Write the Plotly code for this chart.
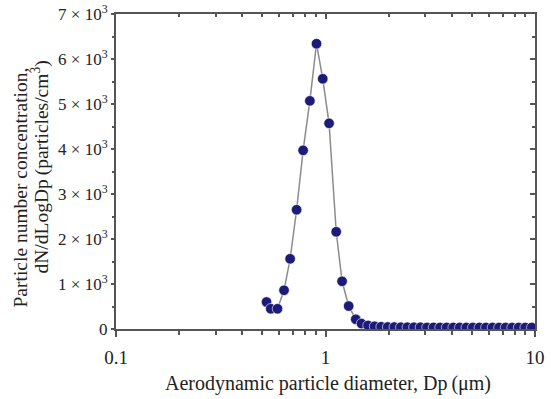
import plotly.graph_objects as go

# Data
diameter_um = [0.523, 0.548, 0.590, 0.634, 0.678, 0.728, 0.782, 0.842, 0.906, 0.970,
               1.040, 1.125, 1.200, 1.290, 1.395, 1.486, 1.596, 1.715, 1.843, 1.981,
               2.129, 2.288, 2.458, 2.642, 2.839, 3.051, 3.278, 3.523, 3.786, 4.068,
               4.371, 4.698, 5.048, 5.425, 5.829, 6.264, 6.732, 7.234, 7.774, 8.354,
               8.977, 9.647]
concentration = [600, 450, 450, 860, 1560, 2650, 3970, 5070, 6340, 5560,
                 4570, 2160, 1060, 510, 215, 120, 80, 60, 50, 45,
                 42, 40, 40, 38, 38, 36, 36, 35, 35, 35,
                 34, 34, 34, 33, 33, 33, 33, 32, 32, 32,
                 32, 32]

y_tick_vals = [0, 1000, 2000, 3000, 4000, 5000, 6000, 7000]
y_tick_text = ["0"] + [f"{i}\u2005\u00d7\u200510<sup>3</sup>" for i in range(1, 8)]
x_tick_vals = [0.1, 1, 10]
x_tick_text = ["0.1", "1", "10"]
x_minor_vals = [m * 10 ** e for e in (-1, 0) for m in range(2, 10)]
y_minor_vals = [500, 1500, 2500, 3500, 4500, 5500, 6500]

x_title = "Aerodynamic particle diameter, Dp\u2009(\u03bcm)"
y_title_1 = "Particle number concentration,"
y_title_2 = "dN/dLogDp\u2009(particles/cm<sup>3</sup>)"

font = "Liberation Serif, Times New Roman, serif"
axis_col = "#555555"
text_col = "#222222"

fig = go.Figure()
fig.add_trace(go.Scatter(
    x=diameter_um, y=concentration, mode="lines+markers",
    line=dict(color="#8c8c8c", width=1.5),
    marker=dict(color="#1c1c78", size=10.5, line=dict(color="white", width=0.6)),
    showlegend=False,
))

common = dict(showline=True, linecolor=axis_col, linewidth=2,
              showgrid=False, zeroline=False, automargin=False)

fig.update_layout(
    width=551, height=399,
    margin=dict(l=116, r=16, t=14, b=70),
    paper_bgcolor="white", plot_bgcolor="white",
    font=dict(family=font, size=17, color=text_col),
    xaxis=dict(
        type="log", range=[-1, 1],
        tickvals=x_tick_vals, ticktext=x_tick_text,
        tickfont=dict(size=19), ticklabelstandoff=4,
        ticks="outside", ticklen=6, tickwidth=1.5, tickcolor=axis_col,
        minor=dict(tickvals=x_minor_vals, ticks="outside", ticklen=4,
                   tickwidth=1.5, tickcolor=axis_col),
        **common,
    ),
    xaxis2=dict(
        type="log", range=[-1, 1], overlaying="x", side="top",
        tickvals=x_tick_vals, showticklabels=False,
        ticks="inside", ticklen=5, tickwidth=1.5, tickcolor=axis_col,
        minor=dict(tickvals=x_minor_vals, ticks="inside", ticklen=3,
                   tickwidth=1.5, tickcolor=axis_col),
        **common,
    ),
    yaxis=dict(
        range=[0, 7000],
        tickvals=y_tick_vals, ticktext=y_tick_text,
        tickfont=dict(size=17),
        ticks="outside", ticklen=3, tickwidth=1.5, tickcolor=axis_col,
        minor=dict(tickvals=y_minor_vals, ticks="outside", ticklen=2,
                   tickwidth=1.5, tickcolor=axis_col),
        **common,
    ),
    yaxis2=dict(
        range=[0, 7000], overlaying="y", side="right",
        tickvals=y_tick_vals, showticklabels=False,
        ticks="inside", ticklen=5, tickwidth=1.5, tickcolor=axis_col,
        minor=dict(tickvals=y_minor_vals, ticks="inside", ticklen=3,
                   tickwidth=1.5, tickcolor=axis_col),
        **common,
    ),
    annotations=[
        dict(text=x_title, xref="paper", yref="paper", x=0.5, y=0,
             xanchor="center", yanchor="middle", xshift=2, yshift=-54,
             showarrow=False, font=dict(size=20)),
        dict(text=y_title_1, xref="paper", yref="paper", x=0, y=0.5,
             xanchor="center", yanchor="middle", textangle=-90,
             xshift=-96, yshift=-16, showarrow=False, font=dict(size=19.5)),
        dict(text=y_title_2, xref="paper", yref="paper", x=0, y=0.5,
             xanchor="center", yanchor="middle", textangle=-90,
             xshift=-76, yshift=4, showarrow=False, font=dict(size=19.5)),
    ],
)
# invisible trace so the overlay axes are drawn
fig.add_trace(go.Scatter(x=[1], y=[0], xaxis="x2", yaxis="y2", mode="markers",
                         marker=dict(opacity=0), showlegend=False, hoverinfo="skip"))

fig.write_html("out.html")
